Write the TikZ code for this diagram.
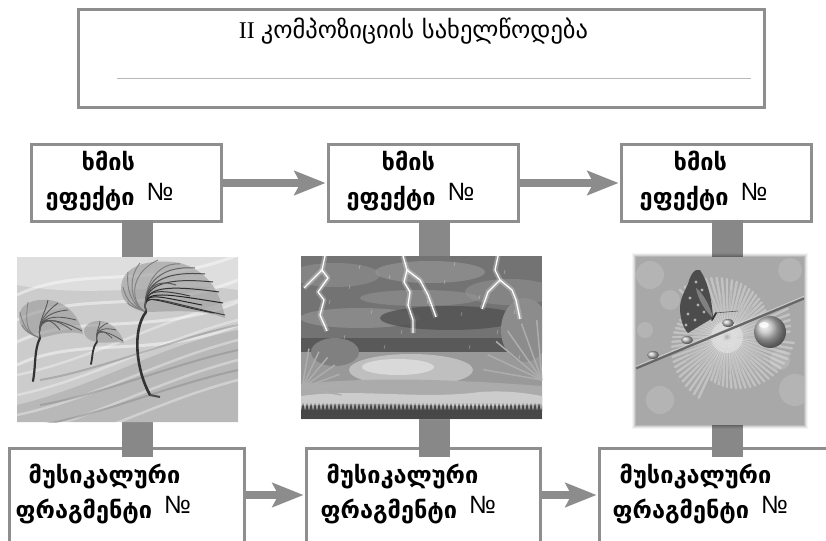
\documentclass[tikz,border=0pt]{standalone}
\usepackage{fontspec}
\usetikzlibrary{arrows.meta,calc}
\newfontfamily\geo{DejaVu Sans}
\newfontfamily\tms{Liberation Serif}
\newfontfamily\lsans{Liberation Sans}
\definecolor{bordergray}{HTML}{8E8E8E}
\definecolor{stubgray}{HTML}{888888}
\definecolor{arrowgray}{HTML}{8C8C8C}
\definecolor{linegray}{HTML}{B8B8B8}
\newcommand{\numsgn}{\hspace{12pt}\raisebox{5pt}{\lsans\mdseries\fontsize{25}{28}\selectfont №}}
\begin{document}
\begin{tikzpicture}[x=1pt,y=-1pt,
  frame/.style={draw=bordergray,line width=3pt,fill=white,inner sep=0pt,rectangle},
  stub/.style={draw=stubgray,line width=31pt},
  arr/.style={draw=arrowgray,line width=8pt,-{Stealth[length=31pt,width=24pt,inset=6pt]},shorten >=1.5pt},
  boldtxt/.style={inner sep=0pt,anchor=base west,font=\geo\bfseries\fontsize{23.5}{27}\selectfont},
  imgbox/.style={inner sep=0pt,draw=none,rectangle,anchor=north west}]

\path[use as bounding box, clip] (0,0) rectangle (826,540);
\fill[white] (0,0) rectangle (826,540);

% ---------- title ----------
\node[frame, minimum width=686pt, minimum height=98pt] (title) at (421.5,58.5) {};
\draw[linegray, line width=1pt] (117,79) -- (751,79);
\node[inner sep=0pt, anchor=base] (ttl) at (413.5,39)
  {\tms\fontsize{24}{28}\selectfont II \geo\fontsize{24.5}{28}\selectfont კომპოზიციის სახელწოდება};

% ---------- boxes ----------
\node[frame, minimum width=190pt, minimum height=77pt] (t1) at (126.5,183) {};
\node[frame, minimum width=190pt, minimum height=77pt] (t2) at (423.5,183) {};
\node[frame, minimum width=190pt, minimum height=77pt] (t3) at (716.5,183) {};
\node[frame, minimum width=235pt, minimum height=150pt, anchor=north] (m1) at (127,446.5) {};
\node[frame, minimum width=234pt, minimum height=150pt, anchor=north] (m2) at (423.5,446.5) {};
\node[frame, minimum width=235pt, minimum height=150pt, anchor=north] (m3) at (717,446.5) {};

% ---------- arrows ----------
\draw[arr] (t1.east) -- (t2.west);
\draw[arr] (t2.east) -- (t3.west);
\draw[arr] ($(m1.north east)+(0,48.5)$) -- ($(m2.north west)+(0,48.5)$);
\draw[arr] ($(m2.north east)+(0,48.5)$) -- ($(m3.north west)+(0,48.5)$);

% ---------- image placeholders ----------
\node[imgbox, minimum width=221pt, minimum height=165pt] (img1) at (17,257) {};
\node[imgbox, minimum width=241pt, minimum height=163pt] (img2) at (301,256) {};
\node[imgbox, minimum width=168pt, minimum height=168pt] (img3) at (636,257) {};

% ---------- stubs ----------
\draw[stub] ($(t1.south)+(11,-3.5)$) coordinate (s1) -- (s1 |- img1.north);
\draw[stub] ($(t2.south)+(11,-3.5)$) coordinate (s2) -- (s2 |- img2.north);
\draw[stub] ($(t3.south)+(11,-3.5)$) coordinate (s3) -- (s3 |- img3.north);
\draw[stub] (s1 |- img1.south) -- ($(s1 |- m1.north)+(0,10)$);
\draw[stub] (s2 |- img2.south) -- ($(s2 |- m2.north)+(0,10)$);
\draw[stub] (s3 |- img3.south) -- ($(s3 |- m3.north)+(0,10)$);

% ---------- box texts ----------
\node[boldtxt] (t1a) at ($(t1.north west)+(51.5,27.5)$) {ხმის};
\node[boldtxt] (t1b) at ($(t1.north west)+(15.5,62.5)$) {ეფექტი\numsgn};
\node[boldtxt] (t2a) at ($(t2.north west)+(54.5,27.5)$) {ხმის};
\node[boldtxt] (t2b) at ($(t2.north west)+(19.5,62.5)$) {ეფექტი\numsgn};
\node[boldtxt] (t3a) at ($(t3.north west)+(53.5,27.5)$) {ხმის};
\node[boldtxt] (t3b) at ($(t3.north west)+(19.5,62.5)$) {ეფექტი\numsgn};

\node[boldtxt] (m1a) at ($(m1.north west)+(20.5,36.5)$) {მუსიკალური};
\node[boldtxt] (m1b) at ($(m1.north west)+(7.5,71.5)$) {ფრაგმენტი\numsgn};
\node[boldtxt] (m2a) at ($(m2.north west)+(21.5,36.5)$) {მუსიკალური};
\node[boldtxt] (m2b) at ($(m2.north west)+(15.5,71.5)$) {ფრაგმენტი\numsgn};
\node[boldtxt] (m3a) at ($(m3.north west)+(21.5,36.5)$) {მუსიკალური};
\node[boldtxt] (m3b) at ($(m3.north west)+(14.5,71.5)$) {ფრაგმენტი\numsgn};

% ---------- image 1 : wind ----------
\begin{scope}
\clip (17,257) rectangle (238,422);
\fill[black!20] (17,257) rectangle (238,422);
\fill[black!13] (17,257) -- (238,257) -- (238,290) .. controls (180,280) and (100,300) .. (17,285) -- cycle;
\foreach \yy in {275,300,322,345}
  \draw[white, opacity=.45, line width=3pt] (17,\yy+20) .. controls (80,\yy-10) and (150,\yy+15) .. (238,\yy-20);
\fill[black!28] (17,405) .. controls (100,385) and (160,345) .. (238,330) -- (238,422) -- (17,422) -- cycle;
\foreach \yy in {360,380,400,420,440}
  \draw[white, opacity=.35, line width=2.5pt] (17,\yy+15) .. controls (90,\yy) and (160,\yy-40) .. (238,\yy-60);
\foreach \yy in {370,395,415}
  \draw[black!45, opacity=.5, line width=2pt] (40,\yy+10) .. controls (100,\yy) and (170,\yy-30) .. (238,\yy-45);
% big tree
\fill[black!40, opacity=.6] (121,290) .. controls (120,265) and (150,258) .. (180,263) .. controls (205,270) and (220,288) .. (225,318) .. controls (200,308) and (165,312) .. (146,312) .. controls (133,310) and (122,303) .. (121,290) -- cycle;
\foreach \ex/\ey/\c/\h in {180/264/50/262,195/268/60/265,205/274/70/270,213/282/75/276,219/292/80/283,223/303/85/292,225/315/75/300,214/313/80/302,202/305/85/296,190/296/75/288,176/285/65/278}
  \draw[black!\c, line width=1pt] (146,312) .. controls (142,290) and (155,\h) .. (\ex,\ey);
\foreach \ex/\ey/\h in {128/300/305,123/287/300,128/272/290,140/263/280,158/260/275}
  \draw[black!50, line width=.9pt] (146,312) .. controls (132,306) and (126,\h) .. (\ex,\ey);
\draw[black!80, line width=2.6pt, line cap=round] (150,395) .. controls (136,370) and (132,330) .. (146,312);
\draw[black!70, line width=2pt] (150,395) -- (160,397);
% medium tree
\fill[black!40, opacity=.6] (19,318) .. controls (18,302) and (40,296) .. (58,302) .. controls (72,308) and (80,320) .. (83,334) .. controls (68,330) and (50,336) .. (40,338) .. controls (30,336) and (20,330) .. (19,318) -- cycle;
\foreach \ex/\ey in {48/300,58/303,68/310,76/320,82/331,72/330,60/330}
  \draw[black!65, line width=.9pt] (40,338) .. controls (37,322) and (46,312) .. (\ex,\ey);
\foreach \ex/\ey in {22/325,20/312,28/302}
  \draw[black!50, line width=.8pt] (40,338) .. controls (30,334) and (24,330) .. (\ex,\ey);
\draw[black!80, line width=2.2pt, line cap=round] (33,381) .. controls (36,365) and (34,350) .. (40,338);
% small tree
\fill[black!40, opacity=.6] (84,332) .. controls (84,322) and (98,318) .. (108,323) .. controls (116,327) and (122,335) .. (124,343) .. controls (112,341) and (104,344) .. (97,342) .. controls (90,341) and (85,338) .. (84,332) -- cycle;
\foreach \ex/\ey in {100/321,108/323,116/330,123/341,112/338}
  \draw[black!65, line width=.8pt] (97,342) .. controls (95,332) and (100,326) .. (\ex,\ey);
\draw[black!80, line width=1.8pt, line cap=round] (91,364) .. controls (93,355) and (92,348) .. (97,342);
\end{scope}

% ---------- image 2 : storm ----------
\begin{scope}
\clip (301,256) rectangle (542,419);
\fill[black!55] (301,256) rectangle (542,419);
\fill[black!45, opacity=.7] (335,275) ellipse [x radius=45, y radius=12];
\fill[black!42, opacity=.7] (430,272) ellipse [x radius=55, y radius=11];
\fill[black!45, opacity=.7] (510,292) ellipse [x radius=45, y radius=13];
\fill[black!40, opacity=.6] (360,318) ellipse [x radius=60, y radius=10];
\fill[black!68, opacity=.8] (450,318) ellipse [x radius=70, y radius=12];
\fill[black!42, opacity=.6] (420,298) ellipse [x radius=60, y radius=8];
\fill[black!65] (301,338) rectangle (542,352);
\fill[black!40] (301,352) rectangle (542,419);
\fill[black!25] (411,370) ellipse [x radius=62, y radius=16];
\fill[black!15] (398,367) ellipse [x radius=36, y radius=8];
\fill[black!33] (301,384) .. controls (380,376) and (460,380) .. (542,386) -- (542,419) -- (301,419) -- cycle;
\fill[black!20] (301,396) .. controls (360,388) and (420,400) .. (480,392) .. controls (510,390) and (530,394) .. (542,396) -- (542,404) .. controls (460,410) and (380,400) .. (301,406) -- cycle;
\fill[black!72] (301,410) rectangle (542,419);
\foreach \xx in {301,305,...,541}
  \fill[black!72] (\xx,411) -- (\xx+2,403) -- (\xx+4,411) -- cycle;
% side foliage
\fill[black!50] (335,352) ellipse [x radius=24, y radius=14];
\foreach \a in {-80,-65,...,10}
  \draw[black!32, line width=1.5pt] (302,388) -- ++(\a:40);
\fill[black!45] (525,330) ellipse [x radius=24, y radius=32];
\foreach \a in {190,205,...,280}
  \draw[black!32, line width=1.5pt] (542,380) -- ++(\a:60);
% rain
\foreach \xx/\yy in {330/300,350/285,372/310,390/275,402/330,428/300,445/280,462/312,480/295,498/330,515/310,345/335,385/345,470/345,520/355,360/265,455/262,505/270}
  \draw[white, opacity=.35, line width=.6pt] (\xx,\yy) -- ++(-1,4);
% lightning
\foreach \w/\o in {5/.25,1.3/1}{
  \draw[white, opacity=\o, line width=\w pt, line join=round] (325,256) -- (322,270) -- (328,278) -- (318,292) -- (324,300) -- (320,315) -- (327,331);
  \draw[white, opacity=\o, line width=\w pt, line join=round] (322,270) -- (312,280) -- (304,288);
  \draw[white, opacity=\o, line width=\w pt, line join=round] (403,256) -- (407,270) -- (404,282) -- (410,292) -- (408,305) -- (413,320) -- (413,333);
  \draw[white, opacity=\o, line width=\w pt, line join=round] (407,270) -- (420,280) -- (428,295) -- (436,317);
  \draw[white, opacity=\o, line width=\w pt, line join=round] (498,256) -- (495,270) -- (500,280) -- (488,292) -- (482,309);
  \draw[white, opacity=\o, line width=\w pt, line join=round] (500,280) -- (512,290) -- (516,300) -- (520,319);
}
\end{scope}

% ---------- image 3 : dandelion ----------
\foreach \d/\o in {4/.04,3/.06,2/.08,1/.12}
  \fill[black, opacity=\o] (636-\d,257-\d) rectangle (804+\d,425+\d);
\begin{scope}
\clip (636,257) rectangle (804,425);
\fill[black!34] (636,257) rectangle (804,425);
\foreach \xx/\yy/\r in {650/275/14,670/300/10,790/270/12,795/390/16,660/400/14,645/330/8,780/360/10}
  \fill[white, opacity=.14] (\xx,\yy) circle (\r);
\foreach \a [evaluate=\a as \rr using {46+mod(\a*13,22)}] in {0,5,...,355}
  \draw[white, opacity=.3, line width=2.4pt, line cap=round] (727,337) -- ++(\a:\rr);
\foreach \a [evaluate=\a as \rr using {30+mod(\a*7,18)}] in {2,9,...,359}
  \draw[black!40, opacity=.3, line width=.8pt] (727,337) -- ++(\a:\rr);
\fill[white, opacity=.3] (727,337) circle (16);
\draw[black!60, line width=3pt] (636,368) -- (804,298);
\draw[white, opacity=.6, line width=1pt] (636,366.5) -- (804,296.5);
\shade[ball color=black!25] (770,332) circle (16);
\fill[white, opacity=.8] (764,325) ellipse [x radius=5, y radius=3];
\shade[ball color=black!25] (653,355) ellipse [x radius=6, y radius=4];
\shade[ball color=black!25] (687,340) ellipse [x radius=6, y radius=4];
\shade[ball color=black!25] (728,323) ellipse [x radius=6, y radius=4];
% butterfly
\fill[black!70] (713,318) .. controls (712,300) and (708,282) .. (700,270) .. controls (694,268) and (690,276) .. (688,284) .. controls (684,292) and (680,300) .. (680,308) .. controls (680,318) and (683,328) .. (688,333) .. controls (696,328) and (706,322) .. (713,318) -- cycle;
\fill[black!50] (713,318) .. controls (706,312) and (698,300) .. (696,288) .. controls (702,292) and (710,305) .. (713,318) -- cycle;
\foreach \xx/\yy in {696/282,702/290,690/298,698/305,688/314,695/320,704/312,686/325}
  \fill[black!30] (\xx,\yy) circle (1.6);
\draw[black!80, line width=1.8pt, line cap=round] (712,320) -- (716,313);
\draw[black!65, line width=.6pt] (715,313) -- (738,311);
\end{scope}
\end{tikzpicture}
\end{document}
